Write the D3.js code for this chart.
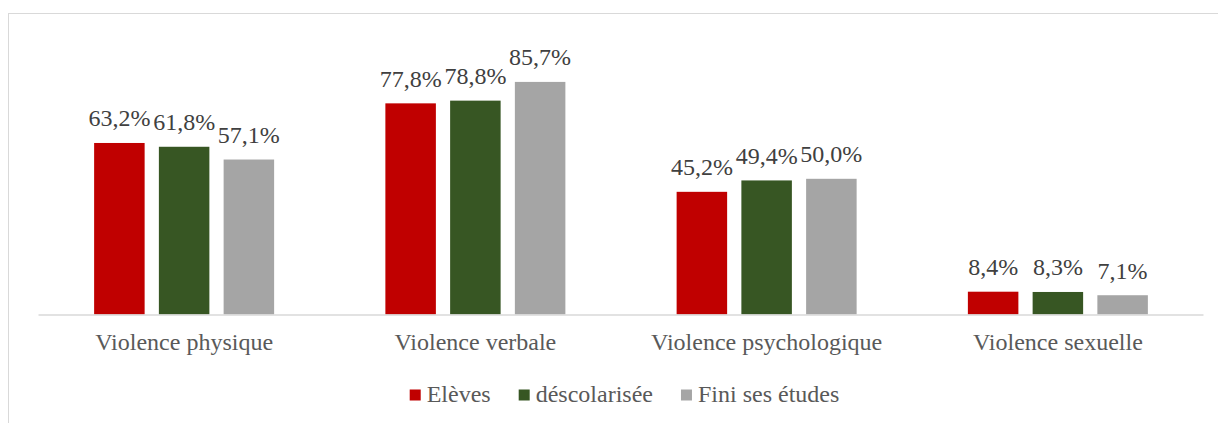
<!DOCTYPE html>
<html>
<head>
<meta charset="utf-8">
<script src="https://cdn.jsdelivr.net/npm/d3@7"></script>
<style>
  body { margin: 0; background: #fff; }
</style>
</head>
<body>
<div id="chart"></div>
<script>
var categories = ["Violence physique", "Violence verbale", "Violence psychologique", "Violence sexuelle"];
var seriesNames = ["Elèves", "déscolarisée", "Fini ses études"];
var eleves = [63.2, 77.8, 45.2, 8.4];
var descolarisee = [61.8, 78.8, 49.4, 8.3];
var fini = [57.1, 85.7, 50.0, 7.1];
var colors = ["#C00000", "#375623", "#A5A5A5"];

var serif = "'Liberation Serif', 'Times New Roman', serif";
var width = 1218, height = 423;
var svg = d3.select("#chart").append("svg")
    .attr("width", width)
    .attr("height", height);

// chart frame
svg.append("rect")
    .attr("x", 8.5).attr("y", 13.5)
    .attr("width", 1220).attr("height", 420)
    .attr("fill", "none")
    .attr("stroke", "#D9D9D9")
    .attr("stroke-width", 1);

var x0 = d3.scaleBand().domain(categories).range([38.5, 1203.5]).paddingInner(0).paddingOuter(0);
var x1 = d3.scaleBand().domain(seriesNames).range([0, 180]).paddingInner(0.22).paddingOuter(0);
var y = d3.scaleLinear().domain([0, 100]).range([314.5, 43.1]);

var rows = [];
categories.forEach(function(c, i) {
  [eleves, descolarisee, fini].forEach(function(s, j) {
    rows.push({cat: c, series: seriesNames[j], value: s[i], color: colors[j]});
  });
});

var groupOffset = (x0.bandwidth() - 180) / 2;

svg.selectAll(".bar")
    .data(rows)
    .enter().append("rect")
    .attr("class", "bar")
    .attr("x", function(d) { return x0(d.cat) + groupOffset + x1(d.series); })
    .attr("width", x1.bandwidth())
    .attr("y", function(d) { return y(d.value); })
    .attr("height", function(d) { return y(0) - y(d.value); })
    .attr("fill", function(d) { return d.color; });

svg.selectAll(".vlabel")
    .data(rows)
    .enter().append("text")
    .attr("class", "vlabel")
    .attr("x", function(d) { return x0(d.cat) + groupOffset + x1(d.series) + x1.bandwidth() / 2; })
    .attr("y", function(d) { return y(d.value) - 16.5; })
    .attr("text-anchor", "middle")
    .style("font-family", serif)
    .style("font-size", "24px")
    .attr("fill", "#404040")
    .text(function(d) { return d3.format(".1f")(d.value).replace(".", ",") + "%"; });

// baseline
svg.append("line")
    .attr("x1", x0.range()[0]).attr("x2", x0.range()[1])
    .attr("y1", y(0) + 0.5).attr("y2", y(0) + 0.5)
    .attr("stroke", "#D9D9D9")
    .attr("stroke-width", 1.5);

var xAxis = d3.axisBottom(x0).tickSize(0).tickPadding(0);
var gx = svg.append("g")
    .attr("transform", "translate(0," + y(0) + ")")
    .call(xAxis);
gx.select(".domain").remove();
gx.selectAll("text")
    .attr("dy", null)
    .attr("y", 35.5)
    .style("font-family", serif)
    .style("font-size", "24px")
    .attr("fill", "#595959");

// legend
var legend = svg.append("g").attr("class", "legend");
var items = legend.selectAll("g")
    .data(seriesNames)
    .enter().append("g");
items.append("rect")
    .attr("width", 11).attr("height", 11)
    .attr("y", 389.5)
    .attr("fill", function(d, i) { return colors[i]; });
items.append("text")
    .attr("x", 17)
    .attr("y", 402)
    .style("font-family", serif)
    .style("font-size", "24px")
    .attr("fill", "#595959")
    .text(function(d) { return d; });

var widths = [];
items.selectAll("text").each(function() { widths.push(this.getComputedTextLength()); });
var gap = 28;
var total = d3.sum(widths, function(w) { return 17 + w; }) + gap * (widths.length - 1);
var cx = 624.5;
var pos = cx - total / 2;
items.attr("transform", function(d, i) {
  var t = "translate(" + pos + ",0)";
  pos += 17 + widths[i] + gap;
  return t;
});
</script>
</body>
</html>
